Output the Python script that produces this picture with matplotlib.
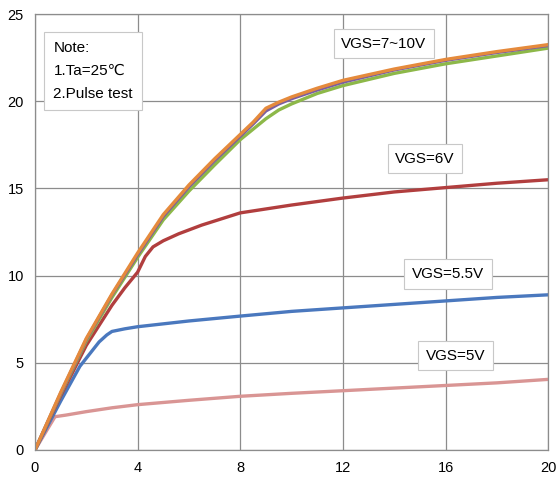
import matplotlib.pyplot as plt

plt.rcParams['font.family'] = ['Liberation Sans', 'DejaVu Sans']

# curves (VDS, ID)
x_hi = [0, 1, 2, 3, 4, 5, 6, 7, 8, 8.5, 9, 9.5, 10, 11, 12, 14, 16, 18, 20]
y_10v = [0, 3.3, 6.4, 8.95, 11.3, 13.5, 15.2, 16.7, 18.1, 18.8, 19.6, 19.95, 20.25, 20.75, 21.2, 21.85, 22.4, 22.85, 23.25]
y_8v = [0, 3.25, 6.35, 8.9, 11.2, 13.4, 15.1, 16.6, 18.0, 18.7, 19.45, 19.85, 20.15, 20.65, 21.1, 21.8, 22.35, 22.8, 23.2]
y_7v = [0, 3.2, 6.25, 8.75, 11.05, 13.2, 14.85, 16.35, 17.8, 18.4, 19.0, 19.5, 19.85, 20.45, 20.9, 21.6, 22.15, 22.6, 23.05]

x_6v = [0, 1, 2, 3, 3.5, 4, 4.3, 4.6, 5, 5.6, 6.5, 8, 10, 12, 14, 16, 18, 20]
y_6v = [0, 3.1, 6.0, 8.3, 9.3, 10.2, 11.1, 11.65, 12.0, 12.4, 12.9, 13.6, 14.05, 14.45, 14.8, 15.05, 15.3, 15.5]

x_55v = [0, 1, 1.75, 2.5, 2.8, 3, 3.5, 4, 6, 8, 10, 12, 14, 16, 18, 20]
y_55v = [0, 2.8, 4.8, 6.2, 6.6, 6.8, 6.95, 7.07, 7.4, 7.68, 7.95, 8.15, 8.35, 8.55, 8.75, 8.9]

x_5v = [0, 0.78, 1.2, 2, 3, 4, 6, 8, 10, 12, 14, 16, 18, 20]
y_5v = [0, 1.91, 2.0, 2.2, 2.42, 2.6, 2.85, 3.08, 3.25, 3.4, 3.55, 3.7, 3.85, 4.05]

xticks = [0, 4, 8, 12, 16, 20]
yticks = [0, 5, 10, 15, 20, 25]

fig = plt.figure(figsize=(5.59, 4.87), dpi=100)
ax = fig.add_axes([0.0626, 0.076, 0.918, 0.895])

lw = 2.4
ax.plot(x_5v, y_5v, color='#D99594', lw=lw)
ax.plot(x_55v, y_55v, color='#4A78BE', lw=lw)
ax.plot(x_6v, y_6v, color='#B13E3E', lw=lw)
ax.plot(x_hi, y_7v, color='#8DB849', lw=lw)
ax.plot(x_hi, y_8v, color='#7B5EA0', lw=lw)
ax.plot(x_hi, y_10v, color='#E58A3C', lw=lw)

ax.set_xlim(0, 20)
ax.set_ylim(0, 25)
ax.set_xticks(xticks)
ax.set_yticks(yticks)
ax.grid(True, color='#8c8c8c', lw=0.9)
ax.set_axisbelow(True)
ax.tick_params(length=0, labelsize=10.5, pad=8)
for s in ax.spines.values():
    s.set_color('#8c8c8c')
    s.set_linewidth(0.9)

box = dict(boxstyle='square,pad=0.5', fc='white', ec='#c8c8c8', lw=0.8)
ax.text(13.6, 23.3, 'VGS=7~10V', fontsize=11, ha='center', va='center', bbox=box)
ax.text(15.2, 16.7, 'VGS=6V', fontsize=11, ha='center', va='center', bbox=box)
ax.text(16.1, 10.1, 'VGS=5.5V', fontsize=11, ha='center', va='center', bbox=box)
ax.text(16.4, 5.4, 'VGS=5V', fontsize=11, ha='center', va='center', bbox=box)
ax.text(0.72, 21.75, 'Note:\n1.Ta=25℃\n2.Pulse test', fontsize=11, ha='left', va='center',
        linespacing=1.8, bbox=dict(boxstyle='square,pad=0.6', fc='white', ec='#c8c8c8', lw=0.8))

fig.savefig('out.png', dpi=100)
